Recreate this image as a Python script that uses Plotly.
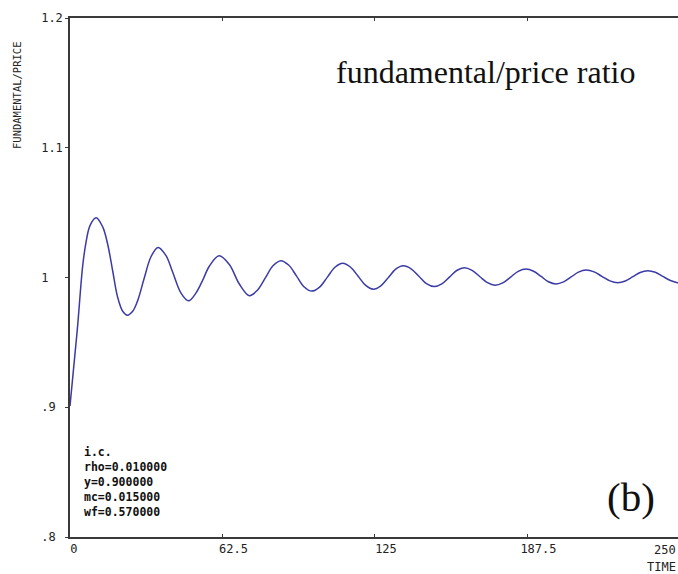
import plotly.graph_objects as go

# Simulated fundamental/price ratio over time (damped oscillation towards 1)
time = [0, 3.0, 5.2, 6.6, 8.2, 10.7, 13.4, 15.4, 17.5, 19.5, 21.6, 23.5,
        25.7, 27.7, 30.5, 33.2, 36.1, 39.3, 42.1, 45.5, 48.6, 51.6, 54.4,
        57.1, 61.1, 65.3, 69.4, 73.5, 76.7, 80.0, 83.2, 86.4, 89.6, 92.8,
        95.9, 99.1, 102.3, 105.5, 108.6, 111.8, 114.9, 118.1, 121.2, 124.3,
        127.4, 130.5, 133.5, 136.6, 139.8, 143.0, 146.1, 149.3, 152.4, 155.5,
        158.5, 161.6, 164.8, 167.9, 171.1, 174.2, 177.4, 180.6, 183.7, 186.9,
        190.0, 193.1, 196.1, 199.2, 202.3, 205.4, 208.4, 211.5, 214.8, 218.0,
        221.3, 224.5, 227.6, 230.7, 233.7, 236.8, 239.9, 243.0, 246.1, 248.6,
        250.0]
ratio = [0.901, 0.960, 1.009, 1.0275, 1.040, 1.046, 1.039, 1.026, 1.005,
         0.985, 0.9740, 0.971, 0.9740, 0.982, 1.000, 1.016, 1.0232, 1.017,
         1.004, 0.988, 0.982, 0.988, 0.998, 1.0087, 1.0167, 1.010, 0.995,
         0.986, 0.9900, 0.9995, 1.0090, 1.013, 1.0096, 1.0013, 0.9929,
         0.9895, 0.9926, 1.0003, 1.0079, 1.011, 1.0081, 1.001, 0.9939,
         0.991, 0.9936, 1.000, 1.0064, 1.009, 1.0067, 1.001, 0.9953, 0.993,
         0.9951, 1.0003, 1.0054, 1.0075, 1.0055, 1.0008, 0.9960, 0.994,
         0.9958, 1.0003, 1.0047, 1.0065, 1.0048, 1.0008, 0.9967, 0.995,
         0.9966, 1.0004, 1.0041, 1.0057, 1.0043, 1.0009, 0.9974, 0.996,
         0.9973, 1.0006, 1.0039, 1.0052, 1.0040, 1.0008, 0.9977, 0.9962,
         0.9958]

x_ticks = [0, 62.5, 125, 187.5]
x_tick_text = ["0\u00a0\u00a0", "62.5", "125", "187.5"]
x_last_tick = "250"
y_ticks = [0.8, 0.9, 1.0, 1.1, 1.2]
y_tick_text = [".8\u00a0", ".9\u00a0", "1\u00a0\u00a0", "1.1", "1.2"]

params = ["i.c.", "rho=0.010000", "y=0.900000", "mc=0.015000", "wf=0.570000"]

W, H = 678, 574
L, R, T, B = 70, 0, 18, 37
PW, PH = W - L - R, H - T - B

def px(xp):
    return (xp - L) / PW

def py(yp):
    return (H - B - yp) / PH

axis_color = "#3a3a3a"
mono = "DejaVu Sans Mono"

fig = go.Figure()
fig.add_trace(go.Scatter(
    x=time, y=ratio, mode="lines",
    line=dict(color="#3b3ba6", width=1.5, shape="spline", smoothing=1.0),
    hoverinfo="skip", showlegend=False,
))

annotations = [
    dict(text="FUNDAMENTAL/PRICE", x=px(17), y=py(96), xref="paper", yref="paper",
         textangle=-90, showarrow=False, xanchor="center", yanchor="middle",
         font=dict(family=mono, size=10.5, color="#222")),
    dict(text="fundamental/price ratio", x=px(485), y=py(72), xref="paper", yref="paper",
         showarrow=False, xanchor="center", yanchor="middle",
         font=dict(family="Liberation Serif", size=32, color="#111")),
    dict(text="(b)", x=px(631), y=py(497), xref="paper", yref="paper",
         showarrow=False, xanchor="center", yanchor="middle",
         font=dict(family="Liberation Serif", size=41, color="#111")),
    dict(text=x_last_tick, x=1, y=py(550), xref="paper", yref="paper",
         showarrow=False, xanchor="right", yanchor="middle",
         font=dict(family=mono, size=12, color="#222")),
    dict(text="TIME", x=1, y=py(567), xref="paper", yref="paper",
         showarrow=False, xanchor="right", yanchor="middle",
         font=dict(family=mono, size=12, color="#222")),
    # parameter block, one line per setting
    dict(text="<br>".join(params), x=px(82), y=py(482), xref="paper", yref="paper",
         showarrow=False, xanchor="left", yanchor="middle", align="left",
         font=dict(family=mono, size=11.5, color="#111", weight="bold")),
]

fig.update_layout(
    width=W, height=H,
    margin=dict(l=L, r=R, t=T, b=B, pad=0),
    paper_bgcolor="white", plot_bgcolor="white",
    annotations=annotations,
    xaxis=dict(
        range=[0, 249.2], showgrid=False, zeroline=False,
        showline=True, linecolor=axis_color, linewidth=1.5, mirror="ticks",
        ticks="inside", ticklen=3, tickcolor=axis_color, tickwidth=1,
        tickvals=x_ticks, ticktext=x_tick_text, ticklabelshift=11,
        tickfont=dict(family=mono, size=12, color="#222"),
    ),
    yaxis=dict(
        range=[0.8, 1.2], showgrid=False, zeroline=False,
        showline=True, linecolor=axis_color, linewidth=1.5,
        ticks="outside", ticklen=3, tickcolor=axis_color, tickwidth=1,
        tickvals=y_ticks, ticktext=y_tick_text,
        tickfont=dict(family=mono, size=12, color="#222"),
    ),
)

fig.write_html("out.html")
